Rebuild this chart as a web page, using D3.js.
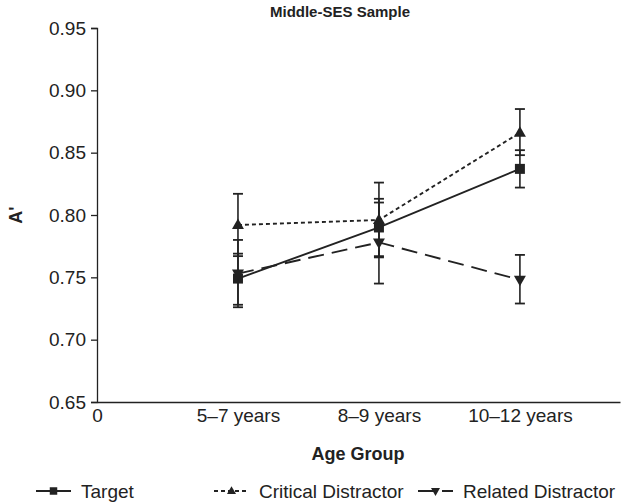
<html>
  <head>
    <script src="https://d3js.org/d3.v7.min.js"></script>
    <style>
      body { margin: 0; background: #fff; }
      text { font-family: "Liberation Sans", Arial, sans-serif; fill: #222; }
    </style>
  </head>
  <body>
    <script type="text/javascript">
      // chart data
      var groups = ["5–7 years", "8–9 years", "10–12 years"];
      var seriesNames = ["Target", "Critical Distractor", "Related Distractor"];
      var targetMean = [0.749, 0.790, 0.837];
      var targetLo   = [0.728, 0.767, 0.822];
      var targetHi   = [0.769, 0.813, 0.852];
      var criticalMean = [0.792, 0.796, 0.866];
      var criticalLo   = [0.767, 0.766, 0.848];
      var criticalHi   = [0.817, 0.826, 0.885];
      var relatedMean = [0.753, 0.778, 0.748];
      var relatedLo   = [0.726, 0.745, 0.729];
      var relatedHi   = [0.780, 0.810, 0.768];
      var yTicks = [0.65, 0.70, 0.75, 0.80, 0.85, 0.90, 0.95];

      var width = 621, height = 502;
      var ink = "#222";

      var x = d3.scaleLinear().domain([0, 3.71]).range([97, 620]);
      var y = d3.scaleLinear().domain([0.65, 0.95]).range([402, 28]);

      var svg = d3.select("body").append("svg")
          .attr("width", width)
          .attr("height", height);

      // axes
      var yAxis = d3.axisLeft(y).tickValues(yTicks).tickFormat(d3.format(".2f")).tickSize(6).tickPadding(5);
      var gy = svg.append("g")
          .attr("transform", "translate(" + x(0) + ",0)")
          .call(yAxis);
      gy.select(".domain").attr("stroke", ink).attr("stroke-width", 1.3);
      gy.selectAll(".tick line").attr("stroke", ink).attr("stroke-width", 1.3);
      gy.selectAll(".tick text").style("font-size", "19px").attr("fill", ink);

      var xLabels = ["0"].concat(groups);
      var xAxis = d3.axisBottom(x).tickValues([0, 1, 2, 3])
          .tickFormat(function(d, i) { return xLabels[i]; })
          .tickSize(0).tickPadding(7).tickSizeOuter(0);
      var gx = svg.append("g")
          .attr("transform", "translate(0," + y(0.65) + ")")
          .call(xAxis);
      gx.select(".domain").attr("stroke", ink).attr("stroke-width", 1.3);
      gx.selectAll(".tick text").style("font-size", "19px").attr("fill", ink);

      // titles
      svg.append("text")
          .attr("x", 340).attr("y", 17)
          .attr("text-anchor", "middle")
          .style("font-size", "15px").style("font-weight", "bold")
          .text("Middle-SES Sample");

      svg.append("text")
          .attr("x", 358).attr("y", 460)
          .attr("text-anchor", "middle")
          .style("font-size", "18px").style("font-weight", "bold")
          .text("Age Group");

      svg.append("text")
          .attr("transform", "translate(22,215) rotate(-90)")
          .attr("text-anchor", "middle")
          .style("font-size", "18px").style("font-weight", "bold")
          .text("A'");

      // series
      var series = [
        { name: seriesNames[0], mean: targetMean, lo: targetLo, hi: targetHi, dash: null, marker: "square" },
        { name: seriesNames[1], mean: criticalMean, lo: criticalLo, hi: criticalHi, dash: "4,3", marker: "up" },
        { name: seriesNames[2], mean: relatedMean, lo: relatedLo, hi: relatedHi, dash: "16,8", marker: "down" }
      ];

      var line = d3.line()
          .x(function(d, i) { return x(i + 1); })
          .y(function(d) { return y(d); });

      function markerPath(type) {
        if (type == "square") return "M-5,-5H5V5H-5Z";
        if (type == "up") return "M0,-6.5L6,4H-6Z";
        return "M0,6.5L6,-4H-6Z";
      }

      series.forEach(function(s) {
        var g = svg.append("g");

        // error bars
        s.mean.forEach(function(m, i) {
          var cx = x(i + 1);
          g.append("line")
            .attr("x1", cx).attr("x2", cx)
            .attr("y1", y(s.lo[i])).attr("y2", y(s.hi[i]))
            .attr("stroke", ink).attr("stroke-width", 1.6);
          [s.lo[i], s.hi[i]].forEach(function(v) {
            g.append("line")
              .attr("x1", cx - 5).attr("x2", cx + 5)
              .attr("y1", y(v)).attr("y2", y(v))
              .attr("stroke", ink).attr("stroke-width", 1.8);
          });
        });

        g.append("path")
          .datum(s.mean)
          .attr("d", line)
          .attr("fill", "none")
          .attr("stroke", ink)
          .attr("stroke-width", 1.9)
          .attr("stroke-dasharray", s.dash);

        g.selectAll(".pt")
          .data(s.mean)
          .enter().append("path")
          .attr("transform", function(d, i) { return "translate(" + x(i + 1) + "," + y(d) + ")"; })
          .attr("d", markerPath(s.marker))
          .attr("fill", ink);
      });

      // legend
      var legendX = [36, 214, 418];
      series.forEach(function(s, i) {
        var lg = svg.append("g").attr("transform", "translate(" + legendX[i] + ",491)");
        lg.append("line")
          .attr("x1", 0).attr("x2", 35)
          .attr("stroke", ink).attr("stroke-width", 1.8)
          .attr("stroke-dasharray", s.dash);
        lg.append("path")
          .attr("transform", "translate(17.5,0) scale(0.75)")
          .attr("d", markerPath(s.marker))
          .attr("fill", ink);
        lg.append("text")
          .attr("x", 45).attr("y", 7)
          .style("font-size", "19px")
          .text(s.name);
      });
    </script>
  </body>
</html>
